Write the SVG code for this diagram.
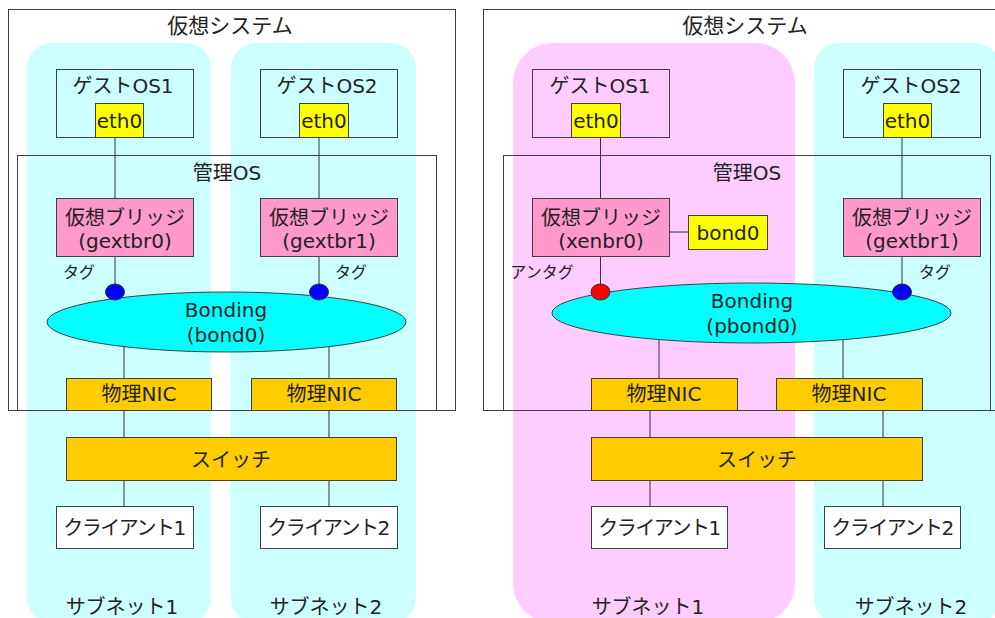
<svg xmlns="http://www.w3.org/2000/svg" width="995" height="618" viewBox="0 0 995 618">
<style>
text{font-family:"DejaVu Sans","Noto Sans CJK JP",sans-serif;fill:#222;text-anchor:middle;font-size:20px}
.t{font-size:21px}
.s{font-size:16px}
.cn{letter-spacing:-1.5px}
.box{stroke:#404040;stroke-width:1}
.frame{fill:none;stroke:#404040;stroke-width:1}
.guest{fill:none}
.eth{fill:#ffff00}
.br{fill:#ff99cc}
.nic{fill:#ffcc00}
.cl{fill:#fff}
.bond{fill:#00ffff;stroke:#404040;stroke-width:1}
.cyan{fill:#ccffff}
.pink{fill:#ffccff}
.conn line{stroke:#333;stroke-width:1}
</style>
<g id="backgrounds">
<rect id="subnetL1" class="cyan" x="27" y="43" width="184" height="580" rx="25"/>
<rect id="subnetL2" class="cyan" x="231" y="43" width="185" height="580" rx="25"/>
<rect id="subnetR1" class="pink" x="513" y="43" width="282" height="580" rx="40"/>
<rect id="subnetR2" class="cyan" x="814" y="43" width="186" height="580" rx="25"/>
</g>
<g id="frames">
<rect class="frame" x="8.5" y="9.5" width="447" height="401"/>
<rect class="frame" x="17.5" y="155.5" width="419" height="255"/>
<rect class="frame" x="483.5" y="9.5" width="530" height="401"/>
<rect class="frame" x="503.5" y="155.5" width="487" height="255"/>
</g>
<g id="connectors" class="conn">
<line x1="115" y1="138" x2="115" y2="292"/>
<line x1="319" y1="138" x2="319" y2="292"/>
<line x1="124" y1="330" x2="124" y2="378"/>
<line x1="329" y1="330" x2="329" y2="378"/>
<line x1="124" y1="411" x2="124" y2="437"/>
<line x1="329" y1="411" x2="329" y2="437"/>
<line x1="124" y1="480" x2="124" y2="506"/>
<line x1="329" y1="480" x2="329" y2="506"/>
<line x1="600.5" y1="138" x2="600.5" y2="292"/>
<line x1="902" y1="138" x2="902" y2="292"/>
<line x1="669" y1="232" x2="688" y2="232"/>
<line x1="659" y1="320" x2="659" y2="378"/>
<line x1="843" y1="320" x2="843" y2="378"/>
<line x1="650" y1="411" x2="650" y2="437"/>
<line x1="883" y1="411" x2="883" y2="437"/>
<line x1="650" y1="480" x2="650" y2="506"/>
<line x1="883" y1="480" x2="883" y2="506"/>
</g>
<g id="labels">
<text class="t" x="230" y="33">仮想システム</text>
<text class="t" x="745" y="33">仮想システム</text>
<text x="227" y="180">管理OS</text>
<text x="747" y="180">管理OS</text>
<text class="s" x="79" y="278">タグ</text>
<text class="s" x="351" y="278">タグ</text>
<text class="s" x="542" y="278">アンタグ</text>
<text class="s" x="935" y="278">タグ</text>
<text x="122" y="614">サブネット1</text>
<text x="326" y="614">サブネット2</text>
<text x="648" y="614">サブネット1</text>
<text x="911" y="614">サブネット2</text>
</g>
<g id="L-guest1"><rect class="box guest" x="56.5" y="69.5" width="137" height="68"/><text x="123" y="93">ゲストOS1</text></g>
<g id="L-eth1"><rect class="box eth" x="95.5" y="103.5" width="48" height="34"/><text x="119.5" y="128">eth0</text></g>
<g id="L-guest2"><rect class="box guest" x="260.5" y="69.5" width="137" height="68"/><text x="327" y="93">ゲストOS2</text></g>
<g id="L-eth2"><rect class="box eth" x="299.5" y="103.5" width="49" height="34"/><text x="324" y="128">eth0</text></g>
<g id="L-br0"><rect class="box br" x="56.5" y="198.5" width="137" height="58"/><text x="125" y="225">仮想ブリッジ</text><text x="125" y="248">(gextbr0)</text></g>
<g id="L-br1"><rect class="box br" x="260.5" y="198.5" width="137" height="58"/><text x="329" y="225">仮想ブリッジ</text><text x="329" y="248">(gextbr1)</text></g>
<g id="L-bond"><ellipse class="bond" cx="226.5" cy="322" rx="179.5" ry="30"/><text x="226" y="317">Bonding</text><text x="226" y="342">(bond0)</text></g>
<g id="L-tag1"><ellipse cx="115" cy="292" rx="9.5" ry="8" fill="#0000ff" stroke="#333"/></g>
<g id="L-tag2"><ellipse cx="319" cy="292" rx="9.5" ry="8" fill="#0000ff" stroke="#333"/></g>
<g id="L-nic1"><rect class="box nic" x="66.5" y="378.5" width="145" height="32"/><text x="139" y="401">物理NIC</text></g>
<g id="L-nic2"><rect class="box nic" x="251.5" y="378.5" width="145" height="32"/><text x="324" y="401">物理NIC</text></g>
<g id="L-switch"><rect class="box nic" x="66.5" y="437.5" width="330" height="43"/><text x="231" y="467">スイッチ</text></g>
<g id="L-client1"><rect class="box cl" x="56.5" y="506.5" width="137" height="42"/><text class="cn" x="124" y="535">クライアント1</text></g>
<g id="L-client2"><rect class="box cl" x="260.5" y="506.5" width="137" height="42"/><text class="cn" x="328" y="535">クライアント2</text></g>
<g id="R-guest1"><rect class="box guest" x="532.5" y="69.5" width="137" height="68"/><text x="600" y="93">ゲストOS1</text></g>
<g id="R-eth1"><rect class="box eth" x="571.5" y="103.5" width="49" height="34"/><text x="596" y="128">eth0</text></g>
<g id="R-guest2"><rect class="box guest" x="843.5" y="69.5" width="137" height="68"/><text x="911" y="93">ゲストOS2</text></g>
<g id="R-eth2"><rect class="box eth" x="883.5" y="103.5" width="48" height="34"/><text x="907.5" y="128">eth0</text></g>
<g id="R-br0"><rect class="box br" x="532.5" y="198.5" width="137" height="58"/><text x="601" y="225">仮想ブリッジ</text><text x="601" y="248">(xenbr0)</text></g>
<g id="R-bond0"><rect class="box eth" x="688.5" y="215.5" width="79" height="34"/><text x="728" y="240">bond0</text></g>
<g id="R-br1"><rect class="box br" x="843.5" y="198.5" width="137" height="58"/><text x="912" y="225">仮想ブリッジ</text><text x="912" y="248">(gextbr1)</text></g>
<g id="R-bond"><ellipse class="bond" cx="751.5" cy="313" rx="199.5" ry="30"/><text x="752" y="308">Bonding</text><text x="752" y="333">(pbond0)</text></g>
<g id="R-untag"><ellipse cx="600.5" cy="292" rx="9.5" ry="8" fill="#ff0000" stroke="#333"/></g>
<g id="R-tag"><ellipse cx="902" cy="292" rx="9.5" ry="8" fill="#0000ff" stroke="#333"/></g>
<g id="R-nic1"><rect class="box nic" x="591.5" y="378.5" width="146" height="32"/><text x="664" y="401">物理NIC</text></g>
<g id="R-nic2"><rect class="box nic" x="776.5" y="378.5" width="146" height="32"/><text x="849" y="401">物理NIC</text></g>
<g id="R-switch"><rect class="box nic" x="591.5" y="437.5" width="331" height="43"/><text x="757" y="467">スイッチ</text></g>
<g id="R-client1"><rect class="box cl" x="591.5" y="506.5" width="136" height="42"/><text class="cn" x="659" y="535">クライアント1</text></g>
<g id="R-client2"><rect class="box cl" x="824.5" y="506.5" width="136" height="42"/><text class="cn" x="892" y="535">クライアント2</text></g>
</svg>
